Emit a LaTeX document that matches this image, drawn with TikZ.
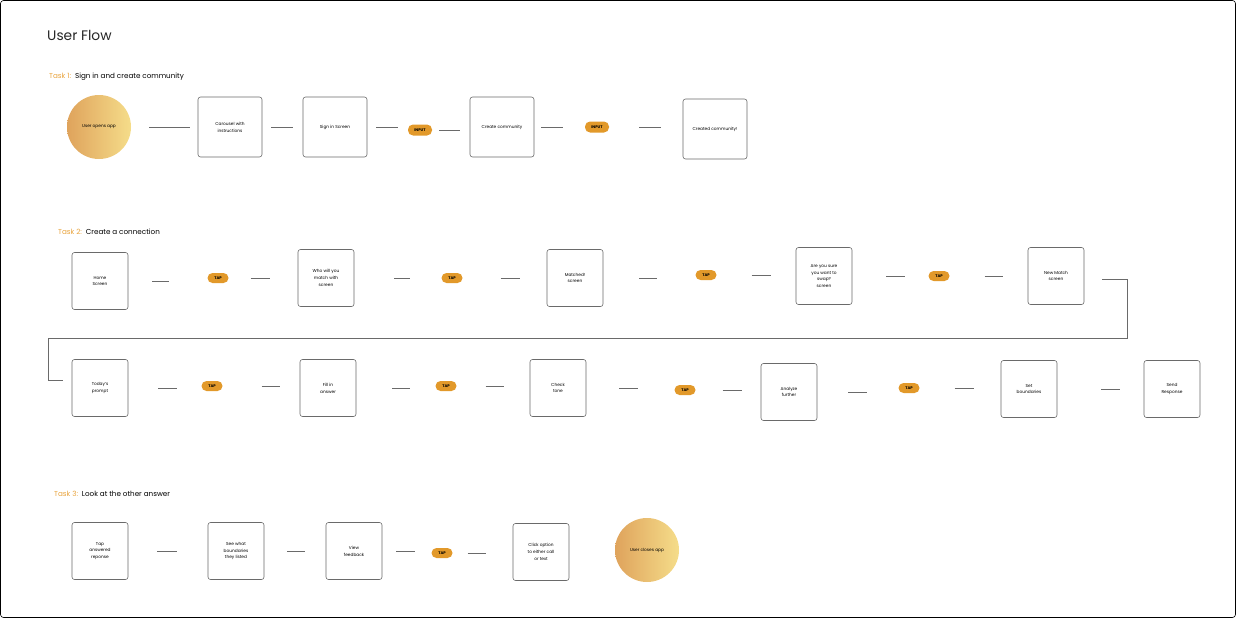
\documentclass[tikz,border=0pt]{standalone}
\usepackage{fontspec}
\setmainfont{Poppins}
\usetikzlibrary{positioning,shapes,calc}
\definecolor{taskorange}{HTML}{E8A33C}
\definecolor{pillorange}{HTML}{E2992A}
\definecolor{gradleft}{HTML}{DFA35C}
\definecolor{gradright}{HTML}{F5DD8A}
\definecolor{linegray}{HTML}{6A6A6A}
\newcommand{\boxfont}{\fontsize{4.3}{6.8}\selectfont}

\begin{document}
\begin{tikzpicture}[x=1pt,y=-1pt,align=center]
    \tikzstyle{screen} = [draw=linegray,line width=0.6pt,rounded corners=2.5pt,minimum width=56,minimum height=57,inner sep=1pt,font=\boxfont]
    \tikzstyle{bigscreen} = [screen,minimum width=64,minimum height=60]
    \tikzstyle{endpoint} = [circle,minimum size=64,inner sep=0pt,left color=gradleft,right color=gradright,font=\boxfont]
    \tikzstyle{pill} = [fill=pillorange,rounded corners=5pt,minimum width=21,minimum height=10,inner sep=1pt,font=\fontsize{3.8}{4.5}\selectfont\bfseries]
    \tikzstyle{link} = [draw=linegray,line width=0.7pt]
    \tikzstyle{task} = [anchor=base west,inner sep=0pt,font=\fontsize{7.2}{8}\selectfont]
    \useasboundingbox (0,0) rectangle (1236,618);
    \draw[black,line width=0.6pt,rounded corners=3pt] (0.5,0.5) rectangle (1235.5,617.5);
      \node[anchor=base west,inner sep=0pt,text=black!85,font=\fontsize{13.8}{16}\selectfont] (title) at (47,41) {User Flow};
      % task 1
      \node[task] (task1) at (49,78) {\textcolor{taskorange}{Task 1:}\ \ Sign in and create community};
      \node[endpoint] (opens) at (99,127) {User opens app};
      \node[bigscreen] (carousel) at (230,127) {Carousel with\\instructions};
      \node[bigscreen] (signin) at (335,127) {Sign in Screen};
      \node[pill,minimum width=24,minimum height=11] (inputA) at (420,130) {INPUT};
      \node[bigscreen] (create) at (502,127) {Create community};
      \node[pill,minimum width=24,minimum height=11] (inputB) at (597,127) {INPUT};
      \node[bigscreen] (created) at (715,129) {Created community!};
      % task 2
      \node[task] (task2) at (58,234) {\textcolor{taskorange}{Task 2:}\ \ Create a connection};
      \node[screen] (home) at (100,281) {Home\\Screen};
      \node[pill] (tapA) at (218,278) {TAP};
      \node[screen] (whomatch) at (326,278) {Who will you\\match with\\screen};
      \node[pill] (tapB) at (452,278) {TAP};
      \node[screen] (matched) at (575,278) {Matched!\\screen};
      \node[pill] (tapC) at (706,275) {TAP};
      \node[screen] (swap) at (824,276) {Are you sure\\you want to\\swap?\\screen};
      \node[pill] (tapD) at (939,276) {TAP};
      \node[screen] (newmatch) at (1056,276) {New Match\\screen};
      \node[screen] (prompt) at (100,388) {Today's\\prompt};
      \node[pill] (tapE) at (212,386) {TAP};
      \node[screen] (fillin) at (328,388) {Fill in\\answer};
      \node[pill] (tapF) at (446,386) {TAP};
      \node[screen] (tone) at (558,388) {Check\\tone};
      \node[pill] (tapG) at (685,390) {TAP};
      \node[screen] (analyze) at (789,392) {Analyze\\further};
      \node[pill] (tapH) at (909,388) {TAP};
      \node[screen] (bounds) at (1029,389) {Set\\boundaries};
      \node[screen] (send) at (1172,389) {Send\\Response};
      % task 3
      \node[task] (task3) at (54,496) {\textcolor{taskorange}{Task 3:}\ \ Look at the other answer};
      \node[screen] (tapresp) at (100,551) {Tap\\answered\\reponse};
      \node[screen] (seewhat) at (236,551) {See what\\boundaries\\they listed};
      \node[screen] (feedback) at (354,551) {View\\feedback};
      \node[pill] (tapI) at (442,553) {TAP};
      \node[screen] (callortext) at (541,552) {Click option\\to either call\\or text};
      \node[endpoint] (closes) at (647,550) {User closes app};
      % short links between the steps
      \foreach \a/\b/\s/\e in {opens/carousel/18/8,carousel/signin/9/10,signin/inputA/9/10,inputA/create/7/10,create/inputB/7/22,inputB/created/30/22,
          home/tapA/24/38,tapA/whomatch/22/28,whomatch/tapB/40/31,tapB/matched/38/27,matched/tapC/36/38,tapC/swap/35/25,swap/tapD/34/23,tapD/newmatch/35/25,
          prompt/tapE/30/24,tapE/fillin/39/20,fillin/tapF/36/25,tapF/tone/29/26,tone/tapG/33/36,tapG/analyze/27/19,analyze/tapH/31/31,tapH/bounds/35/27,bounds/send/44/24,
          tapresp/seewhat/29/31,seewhat/feedback/23/21,feedback/tapI/14/16,tapI/callortext/15/27}
        \draw[link,shorten <=\s pt,shorten >=\e pt] (\a.east) -- (\a.east -| \b.west);
      \draw[link] ([shift={(18,3)}]newmatch.east) -| (1127,338) -| (48,380) -- ([shift={(-9,-8)}]prompt.west);
\end{tikzpicture}
\end{document}
